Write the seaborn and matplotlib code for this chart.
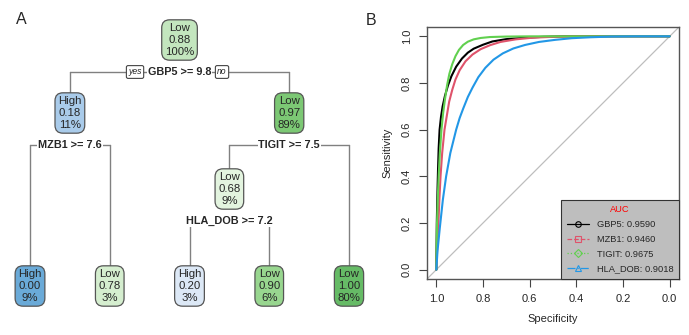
import numpy as np
import pandas as pd
import matplotlib
matplotlib.use("Agg")
import matplotlib.pyplot as plt
import seaborn as sns
from matplotlib.lines import Line2D

# ---- decision tree (panel A) ----
node_class = ["Low", "High", "High", "Low", "Low", "Low", "High", "Low", "Low"]
node_prob = [0.88, 0.18, 0.00, 0.78, 0.97, 0.68, 0.20, 0.90, 1.00]
node_pct = [100, 11, 9, 3, 89, 9, 3, 6, 80]
tree_children = {0: (1, 4), 1: (2, 3), 4: (5, 8), 5: (6, 7)}
split_text = {0: "GBP5 >= 9.8", 1: "MZB1 >= 7.6", 4: "TIGIT >= 7.5", 5: "HLA_DOB >= 7.2"}
node_fill = ["#C3E6BE", "#A9CBEA", "#6AAAD8", "#D5EECF", "#7CC874",
             "#E3F4DF", "#DCE8F6", "#98D68F", "#66BB66"]

# ---- ROC curves (panel B) ----
roc_names = ["GBP5", "MZB1", "TIGIT", "HLA_DOB"]
roc_auc = [0.9590, 0.9460, 0.9675, 0.9018]
spec_gbp5 = [1.0, 0.999, 0.998, 0.996, 0.993, 0.99, 0.986, 0.98, 0.973, 0.963, 0.95, 0.935,
             0.915, 0.89, 0.865, 0.84, 0.80, 0.76, 0.70, 0.62, 0.54, 0.45, 0.0]
sens_gbp5 = [0.0, 0.1, 0.2, 0.3, 0.42, 0.52, 0.6, 0.655, 0.7, 0.745, 0.79, 0.83,
             0.87, 0.905, 0.93, 0.947, 0.964, 0.978, 0.988, 0.994, 0.998, 1.0, 1.0]
spec_mzb1 = [1.0, 0.996, 0.991, 0.987, 0.982, 0.975, 0.965, 0.955, 0.945, 0.932, 0.918,
             0.9, 0.875, 0.845, 0.81, 0.77, 0.725, 0.66, 0.59, 0.5, 0.4, 0.0]
sens_mzb1 = [0.0, 0.1, 0.2, 0.3, 0.4, 0.5, 0.6, 0.66, 0.72, 0.77, 0.815,
             0.855, 0.893, 0.922, 0.945, 0.962, 0.976, 0.987, 0.994, 0.998, 1.0, 1.0]
spec_tigit = [1.0, 0.999, 0.997, 0.994, 0.99, 0.985, 0.978, 0.971, 0.963, 0.954, 0.944,
              0.932, 0.918, 0.903, 0.885, 0.865, 0.84, 0.81, 0.77, 0.70, 0.6, 0.0]
sens_tigit = [0.0, 0.1, 0.2, 0.3, 0.4, 0.5, 0.6, 0.67, 0.73, 0.79, 0.84,
              0.88, 0.915, 0.942, 0.963, 0.977, 0.987, 0.993, 0.997, 0.999, 1.0, 1.0]
spec_hla = [1.0, 0.995, 0.985, 0.972, 0.958, 0.94, 0.915, 0.9, 0.885, 0.865, 0.845, 0.82,
            0.79, 0.755, 0.715, 0.67, 0.62, 0.56, 0.49, 0.42, 0.34, 0.25, 0.15, 0.0]
sens_hla = [0.0, 0.08, 0.18, 0.3, 0.4, 0.5, 0.6, 0.65, 0.69, 0.74, 0.78, 0.825,
            0.865, 0.9, 0.927, 0.948, 0.963, 0.976, 0.985, 0.992, 0.996, 0.999, 1.0, 1.0]

roc_colors = ["black", "#DF536B", "#61D04F", "#2297E6"]
roc_ls = ["-", "--", ":", "-."]
roc_markers = ["o", "s", "D", "^"]

sns.set_style("white")
plt.rcParams['font.family'] = ['Liberation Sans', 'DejaVu Sans']

fig = plt.figure(figsize=(6.89, 3.35), dpi=100)

# ---------------- panel A ----------------
ax_t = fig.add_axes([0, 0, 370 / 689, 1])
ax_t.set_xlim(0, 370)
ax_t.set_ylim(335, 0)
ax_t.axis("off")

level_y = {0: 40, 1: 113, 2: 189}
leaf_y = 286
pos = {}
leaf_count = [0]


def layout(n, d):
    if n in tree_children:
        l, r = tree_children[n]
        layout(l, d + 1)
        layout(r, d + 1)
        pos[n] = ((pos[l][0] + pos[r][0]) / 2, level_y[d])
    else:
        pos[n] = (30 + 79.75 * leaf_count[0], leaf_y)
        leaf_count[0] += 1


layout(0, 0)

for n, (l, r) in tree_children.items():
    sy = pos[n][1] + 32
    xl, xr = pos[l][0], pos[r][0]
    ax_t.plot([xl, xr], [sy, sy], color="#808080", lw=1, zorder=1)
    ax_t.plot([xl, xl], [sy, pos[l][1]], color="#808080", lw=1, zorder=1)
    ax_t.plot([xr, xr], [sy, pos[r][1]], color="#808080", lw=1, zorder=1)
    ax_t.text(pos[n][0], sy, split_text[n], ha="center", va="center", fontsize=7.8,
              fontweight="bold", zorder=3,
              bbox=dict(boxstyle="square,pad=0.08", fc="white", ec="none"))
    if n == 0:
        for dx, word in [(-44.5, "yes"), (42.5, "no")]:
            ax_t.text(pos[n][0] + dx, sy, word, ha="center", va="center", fontsize=6.2,
                      style="italic", zorder=3,
                      bbox=dict(boxstyle="round,pad=0.22,rounding_size=0.2", fc="white",
                                ec="#444444", lw=0.8))

for n in range(len(node_class)):
    label = f"{node_class[n]}\n{node_prob[n]:.2f}\n{node_pct[n]}%"
    ax_t.text(pos[n][0], pos[n][1], label, ha="center", va="center", fontsize=8.2,
              linespacing=1.25, zorder=4,
              bbox=dict(boxstyle="round,pad=0.28,rounding_size=0.7", fc=node_fill[n],
                        ec="#555555", lw=0.9))

# ---------------- panel B ----------------
ax = fig.add_axes([427 / 689, (335 - 279) / 335, (679 - 427) / 689, (279 - 27) / 335])

frames = []
for name, s, t in zip(roc_names, [spec_gbp5, spec_mzb1, spec_tigit, spec_hla],
                      [sens_gbp5, sens_mzb1, sens_tigit, sens_hla]):
    frames.append(pd.DataFrame({"Specificity": s, "Sensitivity": t, "marker": name}))
roc = pd.concat(frames, ignore_index=True)

ax.plot([1.04, -0.04], [-0.04, 1.04], color="#BEBEBE", lw=0.9, zorder=1)
sns.lineplot(data=roc, x="Specificity", y="Sensitivity", hue="marker",
             palette=dict(zip(roc_names, roc_colors)), sort=False, estimator=None,
             lw=1.5, legend=False, ax=ax, zorder=2)

ax.set_xlim(1.04, -0.04)
ax.set_ylim(-0.04, 1.04)
ticks = [0.0, 0.2, 0.4, 0.6, 0.8, 1.0]
ax.set_xticks(ticks)
ax.set_yticks(ticks)
ax.set_xticklabels([f"{v:.1f}" for v in ticks])
ax.set_yticklabels([f"{v:.1f}" for v in ticks], rotation=90, va="center")
ax.tick_params(axis="both", direction="out", length=5.5, width=0.8, color="#444444",
               labelsize=8, pad=5.5, bottom=True, left=True)
for sp in ax.spines.values():
    sp.set_color("#555555")
    sp.set_linewidth(1)
ax.set_xlabel("Specificity", fontsize=8, labelpad=7)
ax.set_ylabel("Sensitivity", fontsize=8, labelpad=7)

handles = [Line2D([0], [0], color=c, ls=ls, marker=m, mfc="none", ms=4, mew=0.8, lw=0.9)
           for c, ls, m in zip(roc_colors, roc_ls, roc_markers)]
labels = [f"{n}: {a:.4f}" for n, a in zip(roc_names, roc_auc)]
leg = ax.legend(handles, labels, title="AUC", loc="lower right", bbox_to_anchor=(1, 0),
                borderaxespad=0, fontsize=6.7, title_fontsize=6.7, fancybox=False,
                facecolor="#BEBEBE", edgecolor="#333333", framealpha=1,
                handlelength=2.4, labelspacing=0.62, borderpad=0.6, handletextpad=0.8)
leg.get_title().set_color("red")
leg.get_frame().set_linewidth(0.8)

fig.text(21.7 / 689, 1 - 20 / 335, "A", fontsize=11.5, ha="center", va="center")
fig.text(371 / 689, 1 - 20.5 / 335, "B", fontsize=11.5, ha="center", va="center")

fig.savefig("out.png", dpi=100)
